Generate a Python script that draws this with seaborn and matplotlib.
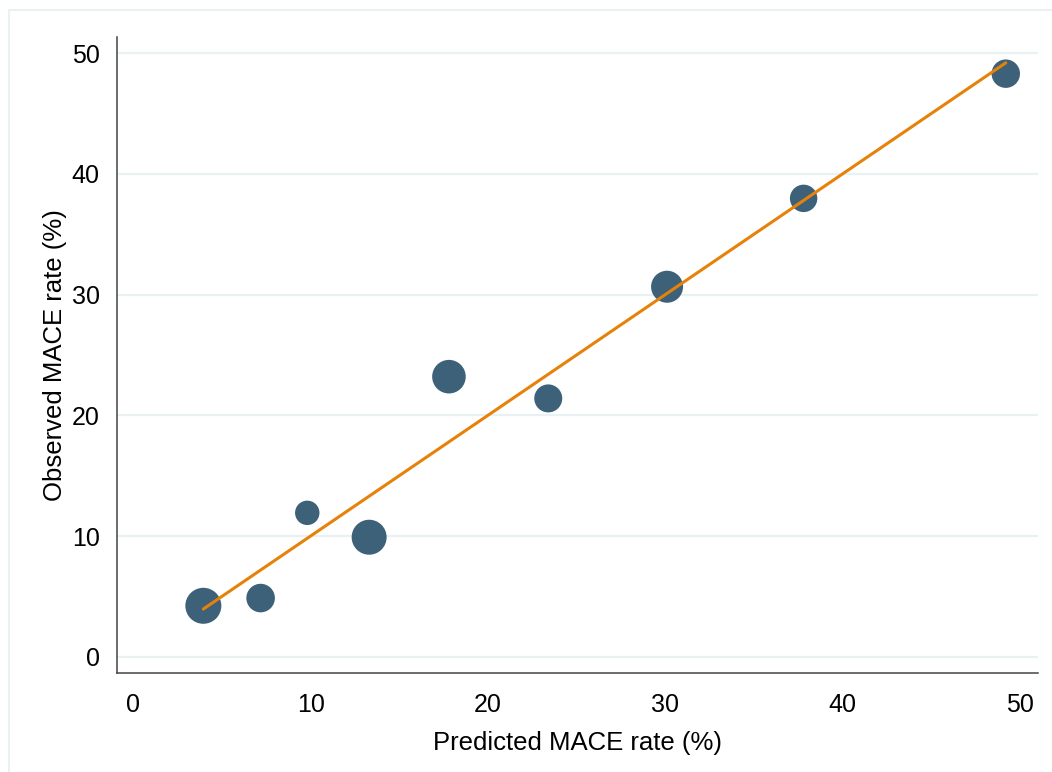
import numpy as np
import pandas as pd
import seaborn as sns
import matplotlib.pyplot as plt
from matplotlib.patches import Rectangle

# calibration by risk group: predicted vs observed MACE rate (%), bubble = group size
predicted = [3.95, 7.18, 9.81, 13.3, 17.8, 23.4, 30.1, 37.8, 49.2]
observed = [4.22, 4.86, 11.92, 9.9, 23.2, 21.4, 30.65, 37.97, 48.3]
n_patients = [324, 204, 149, 306, 282, 196, 256, 188, 202]

xticks = [0, 10, 20, 30, 40, 50]
yticks = [0, 10, 20, 30, 40, 50]

df = pd.DataFrame({'Predicted': predicted, 'Observed': observed, 'n': n_patients})

sns.set_style('white')
plt.rcParams['font.family'] = ['Liberation Sans', 'DejaVu Sans']
plt.rcParams['text.color'] = 'black'
plt.rcParams['axes.labelcolor'] = 'black'

dot_col = '#3d6179'
line_col = '#e6820a'
grid_col = '#eaf1f3'
axis_col = '#444444'

fig = plt.figure(figsize=(10.52, 7.72), dpi=100)
fig.patches.append(Rectangle((9 / 1052, -0.1), 1.2, 1 - 10 / 772 + 0.1,
                             transform=fig.transFigure, fill=False,
                             edgecolor=grid_col, linewidth=1.5, zorder=0))
ax = fig.add_axes([0.1112, 0.1282, 0.8752, 0.8239])

for t in yticks:
    ax.axhline(t, color=grid_col, linewidth=1.6, zorder=0)

sns.scatterplot(data=df, x='Predicted', y='Observed', size='n',
                sizes=(309, 672), size_norm=(149, 324), color=dot_col,
                linewidth=0, alpha=1, legend=False, ax=ax, zorder=2)
sns.lineplot(x=df['Predicted'], y=df['Predicted'], color=line_col,
             linewidth=2.2, ax=ax, zorder=3)

ax.set_xlim(-0.92, 51.0)
ax.set_ylim(-1.35, 51.34)
ax.set_xticks(xticks)
ax.set_yticks(yticks)
ax.tick_params(axis='both', direction='out', length=7.5, width=1.0,
               color=axis_col, labelsize=18, pad=5, labelcolor='black')
ax.tick_params(axis='x', pad=7)

for side in ['top', 'right']:
    ax.spines[side].set_visible(False)
for side in ['left', 'bottom']:
    ax.spines[side].set_color(axis_col)
    ax.spines[side].set_linewidth(1.1)

ax.set_xlabel('Predicted MACE rate (%)', fontsize=18.5, labelpad=10)
ax.set_ylabel('Observed MACE rate (%)', fontsize=18.5, labelpad=3)
ax.grid(False)

plt.savefig('out.png', dpi=100)
